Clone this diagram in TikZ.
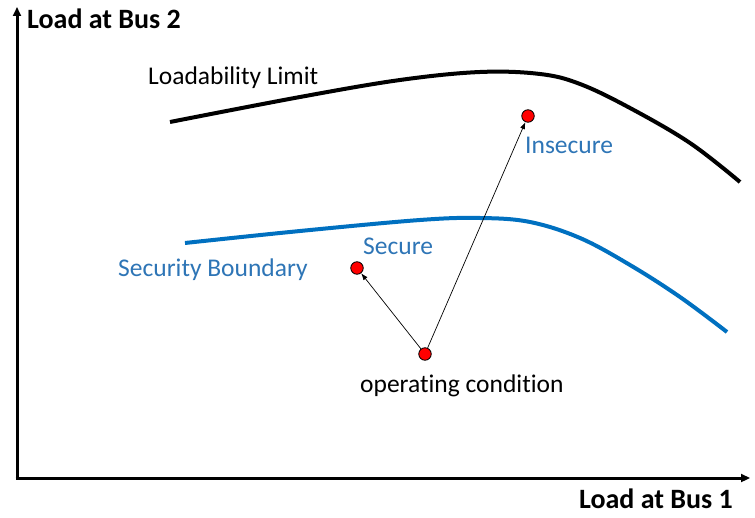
\documentclass[tikz,border=0pt]{standalone}
\usepackage{fontspec}
\setmainfont[Ligatures=NoCommon]{Carlito}
\usetikzlibrary{arrows.meta}
\definecolor{bndblue}{RGB}{0,112,192}
\definecolor{txtblue}{RGB}{46,117,182}
\tikzset{
  axis/.style={line width=3pt, -{Triangle[length=9pt,width=8pt]}},
  dot/.style={circle, draw=black, fill=red, line width=0.8pt, minimum size=12.5pt, inner sep=0pt},
  move/.style={line width=0.7pt, -{Latex[length=7pt,width=5pt]}},
  lbl/.style={font=\fontsize{25.5}{30}\selectfont, inner sep=0pt},
  axlbl/.style={font=\fontsize{28}{33}\selectfont\bfseries, inner sep=0pt},
  curve/.style={line width=4pt}
}
\begin{document}
\begin{tikzpicture}[x=1pt,y=-1pt]
\useasboundingbox (0,0) rectangle (755,518);
\coordinate (origin) at (17,478);
\coordinate (ytop) at (17,7);
\coordinate (xend) at (750,478);
\draw[axis] ([yshift=1.5pt]origin) -- (ytop);
\draw[axis] ([xshift=-1.5pt]origin) -- (xend);
\node[axlbl, anchor=base west] (ylab) at (27,29) {Load at Bus 2};
\node[axlbl, anchor=base east] (xlab) at (733,508) {Load at Bus 1};
% Loadability limit
\draw[curve] plot[smooth, tension=0.6] coordinates {(170,122) (300,97) (400,80) (480,72) (540,74) (580,84) (630,108) (690,143) (740,182)};
\node[lbl, anchor=base west] (ll) at (148,85) {Loadability Limit};
% Security boundary
\draw[curve, bndblue] plot[smooth, tension=0.6] coordinates {(185,243) (300,231) (420,220) (480,218) (530,222) (580,238) (630,265) (680,297) (727,332)};
\node[lbl, anchor=base west, text=txtblue] (sb) at (118,277) {Security Boundary};
% points
\node[dot] (op) at (425,354) {};
\node[dot] (sec) at (357,268) {};
\node[dot] (ins) at (528,116) {};
\draw[move] (op) -- (sec);
\draw[move] (op) -- (ins);
\node[lbl, anchor=base west, text=txtblue] (secl) at (363,255) {Secure};
\node[lbl, anchor=base west, text=txtblue] (insl) at (525,154) {Insecure};
\node[lbl, anchor=base west] (opl) at (360,392) {operating condition};
\end{tikzpicture}
\end{document}
